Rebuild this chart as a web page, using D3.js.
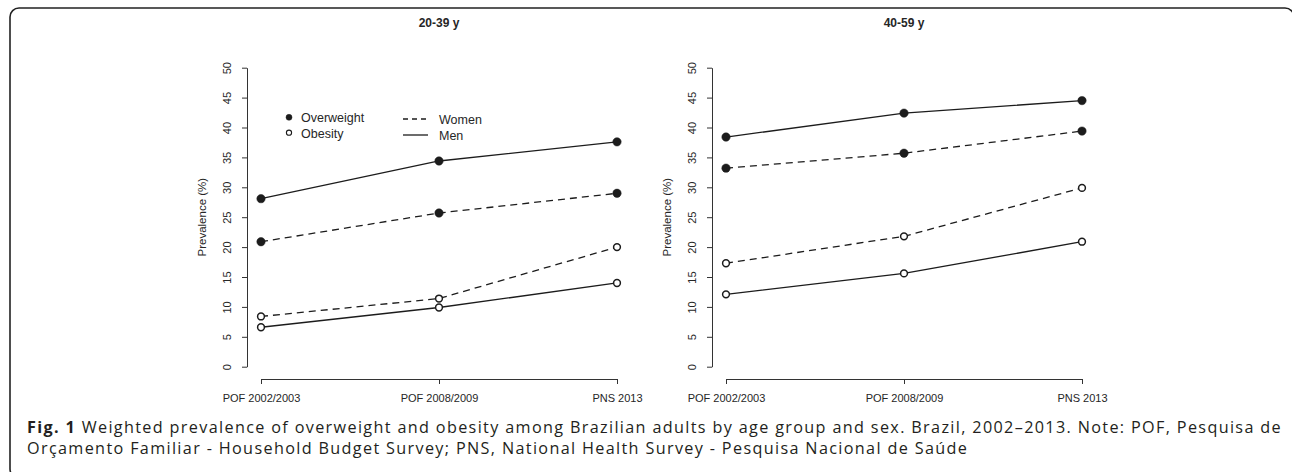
<!DOCTYPE html>
<html>
<head>
<meta charset="utf-8">
<script src="https://cdn.jsdelivr.net/npm/d3@7"></script>
<style>
  html, body { margin: 0; padding: 0; background: #fff; }
  svg { display: block; }
</style>
</head>
<body>
<svg id="chart" width="1292" height="472"></svg>
<script>
// ---------- data ----------
const categories = ["POF 2002/2003", "POF 2008/2009", "PNS 2013"];
const panelTitles = ["20-39 y", "40-59 y"];
const yTicks = [0, 5, 10, 15, 20, 25, 30, 35, 40, 45, 50];

const young_men_overweight   = [28.1, 34.4, 37.6];
const young_women_overweight = [20.9, 25.7, 29.0];
const young_women_obesity    = [8.4, 11.4, 20.0];
const young_men_obesity      = [6.6, 9.9, 14.0];

const older_men_overweight   = [38.4, 42.4, 44.5];
const older_women_overweight = [33.2, 35.7, 39.4];
const older_women_obesity    = [17.3, 21.8, 29.9];
const older_men_obesity      = [12.1, 15.6, 20.9];

const legendMarkers = ["Overweight", "Obesity"];
const legendLines = ["Women", "Men"];

const captionBold = "Fig. 1";
const captionLine1 = " Weighted prevalence of overweight and obesity among Brazilian adults by age group and sex. Brazil, 2002\u20132013. Note: POF, Pesquisa de";
const captionLine2 = "Or\u00e7amento Familiar - Household Budget Survey; PNS, National Health Survey - Pesquisa Nacional de Sa\u00fade";

// ---------- build ----------
const panels = [
  { title: panelTitles[0], series: [
    { values: young_men_overweight,   sex: "Men",   kind: "Overweight" },
    { values: young_women_overweight, sex: "Women", kind: "Overweight" },
    { values: young_women_obesity,    sex: "Women", kind: "Obesity" },
    { values: young_men_obesity,      sex: "Men",   kind: "Obesity" }
  ]},
  { title: panelTitles[1], series: [
    { values: older_men_overweight,   sex: "Men",   kind: "Overweight" },
    { values: older_women_overweight, sex: "Women", kind: "Overweight" },
    { values: older_women_obesity,    sex: "Women", kind: "Obesity" },
    { values: older_men_obesity,      sex: "Men",   kind: "Obesity" }
  ]}
];

const svg = d3.select("#chart");
const ink = "#1c1c1c";
const txt = "#262626";
const font = "'Liberation Sans', Arial, Helvetica, sans-serif";

// frame
svg.append("rect")
  .attr("x", 10).attr("y", 8).attr("width", 1284).attr("height", 470)
  .attr("rx", 9).attr("ry", 9)
  .attr("fill", "none").attr("stroke", "#222").attr("stroke-width", 1.6);

const y = d3.scaleLinear().domain([0, 50]).range([366.7, 67.7]);
const panelOffsets = [0, 465];
const axisX = 247, firstX = 261, lastX = 617, xAxisY = 379;

panels.forEach((p, i) => {
  const off = panelOffsets[i];
  const x = d3.scalePoint().domain(categories).range([firstX + off, lastX + off]).padding(0);
  const g = svg.append("g");

  // title
  g.append("text")
    .attr("x", (firstX + lastX) / 2 + off).attr("y", 27)
    .attr("text-anchor", "middle")
    .attr("font-family", font).attr("font-weight", "bold").attr("font-size", 12)
    .attr("fill", txt)
    .text(p.title);

  // y axis
  const ya = g.append("g").attr("transform", `translate(${axisX + off},0)`)
    .call(d3.axisLeft(y).tickValues(yTicks).tickSize(5).tickSizeOuter(0));
  ya.select(".domain").attr("stroke", "#333").attr("stroke-width", 1);
  ya.selectAll(".tick line").attr("stroke", "#333");
  ya.selectAll(".tick text")
    .attr("transform", "rotate(-90)")
    .attr("x", 0).attr("y", -19.5).attr("dy", "0.35em")
    .attr("text-anchor", "middle")
    .attr("font-family", font).attr("font-size", 11).attr("fill", txt);

  // y title
  g.append("text")
    .attr("transform", `translate(${202 + off},${(y(0) + y(50)) / 2}) rotate(-90)`)
    .attr("text-anchor", "middle").attr("dy", "0.35em")
    .attr("font-family", font).attr("font-size", 11.5).attr("fill", txt)
    .text("Prevalence (%)");

  // x axis
  const xa = g.append("g").attr("transform", `translate(0,${xAxisY})`)
    .call(d3.axisBottom(x).tickSize(5).tickSizeOuter(0).tickPadding(10));
  xa.select(".domain").attr("stroke", "#333").attr("stroke-width", 1);
  xa.selectAll(".tick line").attr("stroke", "#333");
  xa.selectAll(".tick text")
    .attr("font-family", font).attr("font-size", 11).attr("fill", txt);

  // lines
  const line = d3.line().x((d, j) => x(categories[j])).y(d => y(d));
  p.series.forEach(s => {
    g.append("path")
      .attr("d", line(s.values))
      .attr("fill", "none").attr("stroke", ink).attr("stroke-width", 1.3)
      .attr("stroke-dasharray", s.sex === "Women" ? "7,5" : null);
  });
  // points
  p.series.forEach(s => {
    g.selectAll(null).data(s.values).enter().append("circle")
      .attr("cx", (d, j) => x(categories[j])).attr("cy", d => y(d))
      .attr("r", s.kind === "Overweight" ? 4.2 : 3.4)
      .attr("fill", s.kind === "Overweight" ? ink : "#fff")
      .attr("stroke", ink).attr("stroke-width", s.kind === "Overweight" ? 0.5 : 1.5);
  });
});

// legend (left panel)
const lg = svg.append("g");
legendMarkers.forEach((name, k) => {
  const cy = 117.3 + k * 15.4;
  lg.append("circle").attr("cx", 289).attr("cy", cy)
    .attr("r", name === "Overweight" ? 3 : 2.6)
    .attr("fill", name === "Overweight" ? ink : "#fff")
    .attr("stroke", ink).attr("stroke-width", name === "Overweight" ? 0.5 : 1.1);
  lg.append("text").attr("x", 301).attr("y", cy + 0.8).attr("dy", "0.35em")
    .attr("font-family", font).attr("font-size", 12.5).attr("fill", txt).text(name);
});
legendLines.forEach((name, k) => {
  const cy = 119 + k * 16;
  lg.append("line").attr("x1", 403).attr("x2", 428).attr("y1", cy).attr("y2", cy)
    .attr("stroke", ink).attr("stroke-width", 1.3)
    .attr("stroke-dasharray", name === "Women" ? "5,4" : null);
  lg.append("text").attr("x", 439).attr("y", cy + 0.8).attr("dy", "0.35em")
    .attr("font-family", font).attr("font-size", 12.5).attr("fill", txt).text(name);
});

// caption
const capFont = "'Open Sans', 'Noto Sans', sans-serif";
const capSize = 16.2;
const cap1 = svg.append("text").attr("x", 27).attr("y", 433)
  .attr("font-family", capFont).attr("font-size", capSize).attr("fill", "#231f20");
cap1.append("tspan").attr("font-weight", "bold").text(captionBold);
cap1.append("tspan").text(captionLine1);
const cap2 = svg.append("text").attr("x", 27).attr("y", 454)
  .attr("font-family", capFont).attr("font-size", capSize).attr("fill", "#231f20")
  .text(captionLine2);
// adjust letter spacing so line 1 spans the same width as in the reference
const w = cap1.node().getComputedTextLength();
const nChars = (captionBold + captionLine1).length;
const ls = (1255 - w) / nChars;
cap1.attr("letter-spacing", ls);
cap2.attr("letter-spacing", ls);
</script>
</body>
</html>
